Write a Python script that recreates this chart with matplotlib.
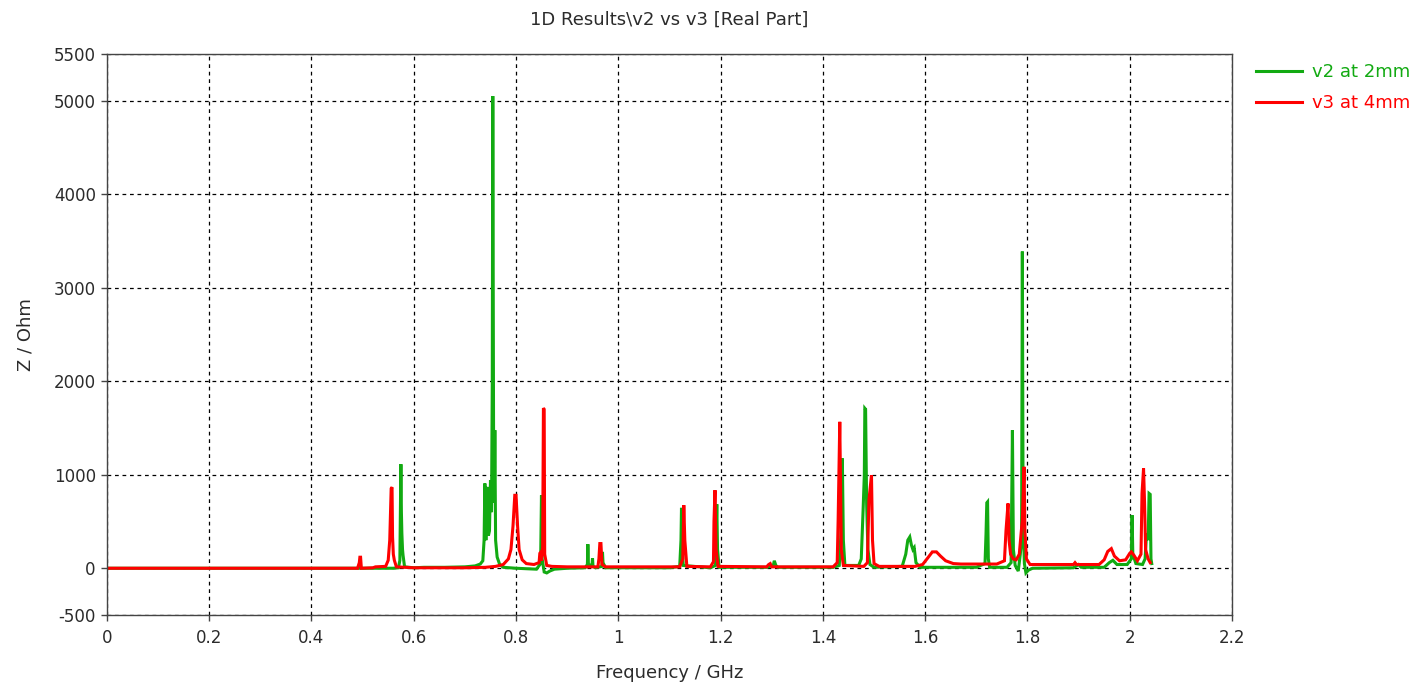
import matplotlib
matplotlib.use("Agg")
import matplotlib.pyplot as plt
from matplotlib.lines import Line2D

# v2 at 2mm : real part of Z (Ohm) vs frequency (GHz)
v2_freq = [0.0, 0.56, 0.570, 0.5728, 0.5740, 0.5748, 0.5758, 0.5767, 0.578, 0.579, 0.582,
           0.60, 0.62, 0.66, 0.70, 0.72, 0.730, 0.735, 0.7375, 0.739, 0.741, 0.7435, 0.746,
           0.748, 0.750, 0.752, 0.7535, 0.7545, 0.7560, 0.7575, 0.7585, 0.760, 0.763, 0.768,
           0.775, 0.80, 0.84, 0.848, 0.8497, 0.851, 0.855, 0.860, 0.866, 0.875, 0.90, 0.935,
           0.9395, 0.9404, 0.9415, 0.9485, 0.9495, 0.9505, 0.955, 0.968, 0.969, 0.970, 0.975,
           1.10, 1.120, 1.1225, 1.1235, 1.1245, 1.127, 1.18, 1.190, 1.1925, 1.194, 1.197,
           1.29, 1.303, 1.305, 1.308, 1.312, 1.42, 1.432, 1.4365, 1.438, 1.440, 1.443,
           1.47, 1.475, 1.4786, 1.481, 1.482, 1.4835, 1.4855, 1.488, 1.492, 1.50,
           1.555, 1.562, 1.566, 1.5699, 1.573, 1.576, 1.5785, 1.582, 1.59,
           1.70, 1.717, 1.719, 1.7205, 1.722, 1.7235, 1.726, 1.76, 1.768, 1.7706, 1.7725,
           1.776, 1.782, 1.786, 1.7885, 1.790, 1.7915, 1.794, 1.797, 1.802, 1.81, 1.89, 1.90,
           1.905, 1.95, 1.960, 1.967, 1.975, 1.995, 2.003, 2.0046, 2.006, 2.012, 2.025, 2.030,
           2.033, 2.036, 2.0378, 2.040, 2.0415, 2.043]
v2_z = [0, 0, 5, 85, 700, 1113, 600, 375, 200, 140, 15,
        5, 10, 10, 15, 25, 45, 80, 300, 907, 300, 870, 350,
        400, 942, 600, 2000, 5050, 1500, 700, 1477, 300, 120, 40,
        10, 0, -10, 50, 780, 100, -40, -50, -30, -10, 0, 5,
        40, 257, 40, 30, 107, 20, 5, 20, 175, 60, 5,
        5, 20, 300, 646, 250, 30, 5, 30, 685, 200, 10,
        10, 30, 80, 30, 10, 10, 30, 500, 1174, 300, 30,
        30, 100, 620, 1000, 1710, 1700, 693, 200, 40, 10,
        20, 150, 300, 335, 250, 200, 220, 60, 10,
        10, 50, 375, 700, 710, 100, 10, 10, 60, 1477, 200,
        30, -30, 150, 300, 3387, 500, 50, -50, -20, 0, 5, 40,
        10, 10, 60, 85, 40, 40, 100, 567, 150, 50, 40, 100,
        375, 300, 800, 790, 100, 50]

# v3 at 4mm : real part of Z (Ohm) vs frequency (GHz)
v3_freq = [0.0, 0.49, 0.4935, 0.4946, 0.4960, 0.4975, 0.52, 0.525, 0.545, 0.550, 0.553,
           0.5558, 0.5575, 0.5585, 0.560, 0.562, 0.566, 0.60, 0.70, 0.74, 0.76, 0.775, 0.785,
           0.790, 0.794, 0.7975, 0.800, 0.803, 0.806, 0.812, 0.820, 0.835, 0.845, 0.8465,
           0.848, 0.849, 0.852, 0.8535, 0.855, 0.856, 0.860, 0.87, 0.90, 0.96, 0.962, 0.9638,
           0.966, 0.968, 0.975, 1.12, 1.126, 1.128, 1.130, 1.134, 1.18, 1.186, 1.187, 1.189,
           1.191, 1.195, 1.29, 1.294, 1.297, 1.300, 1.42, 1.428, 1.4298, 1.433, 1.4345, 1.436,
           1.440, 1.48, 1.487, 1.490, 1.495, 1.497, 1.500, 1.51, 1.58, 1.595, 1.605, 1.614,
           1.622, 1.63, 1.64, 1.655, 1.67, 1.74, 1.755, 1.758, 1.762, 1.764, 1.767, 1.772,
           1.778, 1.784, 1.788, 1.790, 1.7934, 1.795, 1.798, 1.805, 1.89, 1.893, 1.896, 1.94,
           1.950, 1.957, 1.964, 1.970, 1.980, 1.992, 2.000, 2.003, 2.008, 2.015, 2.022, 2.024,
           2.027, 2.029, 2.031, 2.036, 2.040]
v3_z = [0, 0, 60, 118, 118, 0, 5, 15, 20, 85, 300,
        853, 867, 335, 150, 85, 15, 5, 5, 10, 20, 40, 100,
        200, 450, 780, 780, 450, 200, 90, 50, 40, 60, 160,
        170, 80, 200, 1713, 1700, 150, 30, 20, 15, 15, 100, 264,
        264, 40, 15, 15, 100, 675, 300, 20, 15, 70, 500, 835,
        200, 20, 15, 40, 50, 15, 15, 60, 514, 1566, 900, 200,
        30, 20, 60, 728, 996, 300, 50, 20, 20, 40, 110, 175,
        175, 130, 80, 50, 45, 45, 80, 400, 693, 300, 150, 100,
        90, 150, 400, 514, 1085, 400, 100, 40, 40, 60, 40, 40,
        90, 180, 210, 130, 80, 90, 160, 175, 140, 80, 150, 800,
        1067, 700, 200, 100, 60]

x_ticks = [0, 0.2, 0.4, 0.6, 0.8, 1.0, 1.2, 1.4, 1.6, 1.8, 2.0, 2.2]
x_tick_labels = ["0", "0.2", "0.4", "0.6", "0.8", "1", "1.2", "1.4", "1.6", "1.8", "2", "2.2"]
y_ticks = [-500, 0, 1000, 2000, 3000, 4000, 5000, 5500]
y_tick_labels = ["-500", "0", "1000", "2000", "3000", "4000", "5000", "5500"]

GREEN = "#12aa12"
RED = "#ff0000"
TEXT = "#2b2b2b"

plt.rcParams["font.family"] = ["DejaVu Sans"]

fig = plt.figure(figsize=(14.22, 6.86), dpi=100)
ax = fig.add_axes([0.0752, 0.1035, 0.7912, 0.8178])

ax.plot(v2_freq, v2_z, color=GREEN, lw=2.2, label="v2 at 2mm", solid_joinstyle="miter")
ax.plot(v3_freq, v3_z, color=RED, lw=2.2, label="v3 at 4mm", solid_joinstyle="miter")

ax.set_xlim(0, 2.2)
ax.set_ylim(-500, 5500)
ax.set_xticks(x_ticks)
ax.set_xticklabels(x_tick_labels)
ax.set_yticks(y_ticks)
ax.set_yticklabels(y_tick_labels)

ax.grid(True, color="black", linestyle=(0, (3, 3)), linewidth=0.9)
ax.set_axisbelow(True)
for sp in ax.spines.values():
    sp.set_color("#444444")
    sp.set_linewidth(1.0)
ax.tick_params(axis="both", direction="out", length=4, width=1, color="#444444",
               labelsize=12, labelcolor=TEXT)
ax.tick_params(axis="x", pad=6)
ax.tick_params(axis="y", pad=4)

ax.set_xlabel("Frequency / GHz", fontsize=13, color=TEXT, labelpad=12)
ax.set_ylabel("Z / Ohm", fontsize=13, color=TEXT, labelpad=14)
ax.set_title("1D Results\\v2 vs v3 [Real Part]", fontsize=13, color=TEXT, pad=21)

fig.legend(handles=[Line2D([], [], color=GREEN, lw=2.2), Line2D([], [], color=RED, lw=2.2)],
           labels=["v2 at 2mm", "v3 at 4mm"], loc="upper left",
           bbox_to_anchor=(0.8715, 0.932), frameon=False, fontsize=13,
           labelcolor=[GREEN, RED], handlelength=2.55, handletextpad=0.6,
           labelspacing=0.75)

fig.savefig("out.png", dpi=100)
